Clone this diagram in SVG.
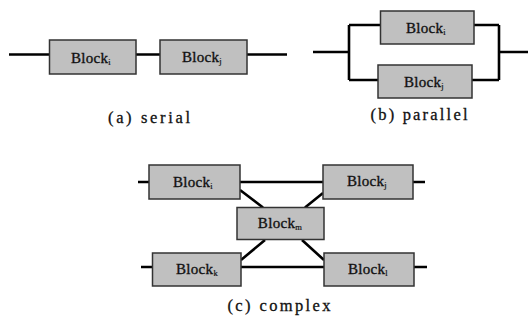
<svg xmlns="http://www.w3.org/2000/svg" width="529" height="320" viewBox="0 0 529 320">
<style>
.blk{fill:#c0c0c0;stroke:#333;stroke-width:1.5}
.lbl{font-family:"Liberation Serif",serif;font-size:15px;fill:#111;stroke:#111;stroke-width:0.35;text-anchor:middle;letter-spacing:0.3px}
.sub{font-size:8.5px;stroke-width:0.2}
.cap{font-family:"Liberation Serif",serif;font-size:16.5px;fill:#111;stroke:#111;stroke-width:0.3;text-anchor:middle}
.ln{stroke:#000;stroke-width:2.6;fill:none}
</style>
<rect width="529" height="320" fill="#fff"/>
<g id="connectors">
<path class="ln" d="M9 54.5H49.5M136 54.5H160M247 54.5H287"/>
<path class="ln" d="M313 52H349M349 25V80M349 25H381M349 80H378M474 25H499M472 80H499M499 25V80M499 52H528"/>
<path class="ln" d="M138 182H149M240 182H323M413 182H425M141 267H153M241 267H324M414 267H427"/>
<path class="ln" d="M240 190L263 207.5M323 193L305 207.5M265 240L241 260M302 240L324 260"/>
</g>
<g id="serial-block-i"><rect class="blk" x="49.5" y="40" width="86.5" height="34"/><text class="lbl" x="91" y="63">Block<tspan class="sub" dy="2">i</tspan></text></g>
<g id="serial-block-j"><rect class="blk" x="160" y="40" width="87" height="34"/><text class="lbl" x="202" y="62">Block<tspan class="sub" dy="2">j</tspan></text></g>
<g id="parallel-block-i"><rect class="blk" x="380.5" y="11" width="93.5" height="33"/><text class="lbl" x="426" y="33">Block<tspan class="sub" dy="2">i</tspan></text></g>
<g id="parallel-block-j"><rect class="blk" x="378" y="65" width="94" height="33"/><text class="lbl" x="424" y="87">Block<tspan class="sub" dy="2">j</tspan></text></g>
<g id="complex-block-i"><rect class="blk" x="149" y="165" width="91" height="34"/><text class="lbl" x="193" y="187">Block<tspan class="sub" dy="2">i</tspan></text></g>
<g id="complex-block-j"><rect class="blk" x="323" y="165" width="90" height="34"/><text class="lbl" x="367" y="186">Block<tspan class="sub" dy="2">j</tspan></text></g>
<g id="complex-block-m"><rect class="blk" x="237" y="207.5" width="87" height="32"/><text class="lbl" x="280" y="228">Block<tspan class="sub" dy="2">m</tspan></text></g>
<g id="complex-block-k"><rect class="blk" x="152.5" y="253" width="88.5" height="33"/><text class="lbl" x="197" y="274">Block<tspan class="sub" dy="2">k</tspan></text></g>
<g id="complex-block-l"><rect class="blk" x="324" y="253" width="90" height="33"/><text class="lbl" x="368" y="274">Block<tspan class="sub" dy="2">l</tspan></text></g>
<text class="cap" x="149" y="123" textLength="82" lengthAdjust="spacing">(a)  serial</text>
<text class="cap" x="419" y="120" textLength="97" lengthAdjust="spacing">(b) parallel</text>
<text class="cap" x="279" y="311" textLength="103" lengthAdjust="spacing">(c) complex</text>
</svg>
